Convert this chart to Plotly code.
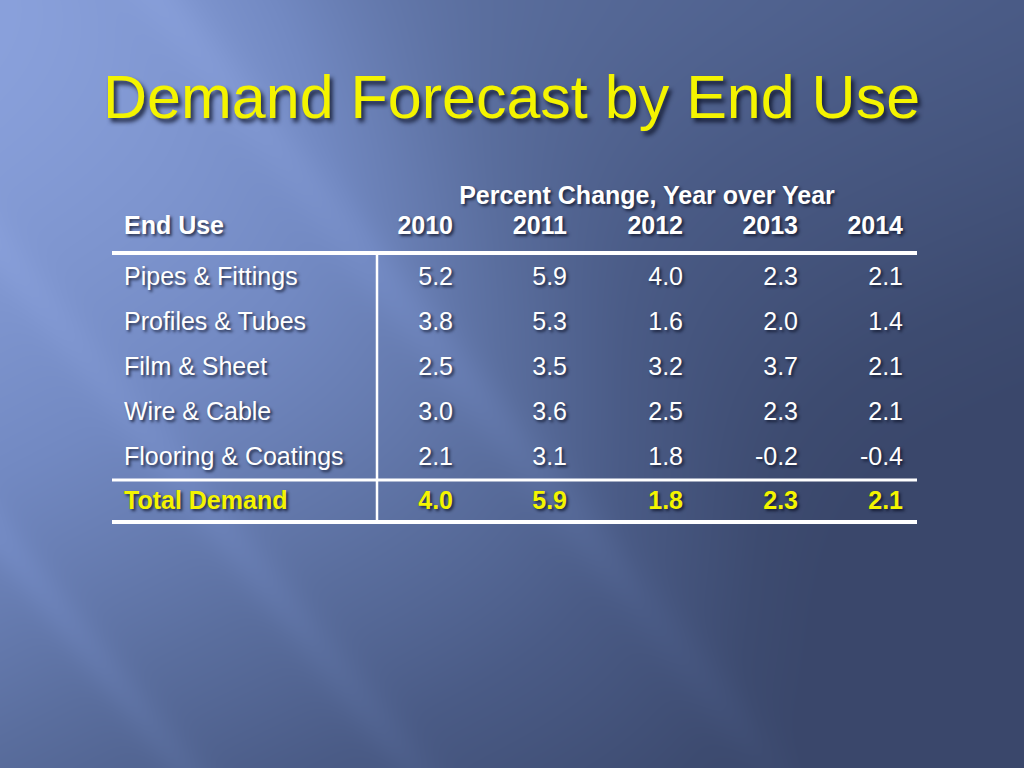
import numpy as np
import plotly.graph_objects as go

# table content
title = "Demand Forecast by End Use"
group_header = "Percent Change, Year over Year"
first_col_header = "End Use"
years = ["2010", "2011", "2012", "2013", "2014"]
end_uses = ["Pipes & Fittings", "Profiles & Tubes", "Film & Sheet",
            "Wire & Cable", "Flooring & Coatings"]
pct_2010 = [5.2, 3.8, 2.5, 3.0, 2.1]
pct_2011 = [5.9, 5.3, 3.5, 3.6, 3.1]
pct_2012 = [4.0, 1.6, 3.2, 2.5, 1.8]
pct_2013 = [2.3, 2.0, 3.7, 2.3, -0.2]
pct_2014 = [2.1, 1.4, 2.1, 2.1, -0.4]
total_label = "Total Demand"
total_values = [4.0, 5.9, 1.8, 2.3, 2.1]

W, H = 1024, 768
FONT = "Liberation Sans, Arial, sans-serif"
YELLOW = "#f4f400"
SHADOW = "2px 2px 3px rgba(10,15,35,0.75)"
FS = 25

# ---- slide background (diagonal blue gradient with faint streaks) ----
gx = np.linspace(0, W, 129)
gy = np.linspace(0, H, 97)
XX, YY = np.meshgrid(gx, gy)
C = XX - 0.8 * YY
s1 = 1 / (1 + np.exp(-(C - 280) / 90))
s2 = (YY / H) ** 1.4
d = 0.45 * s1 + 0.58 * s2 + 0.3 * XX / W + 0.25 * XX * YY / (W * H)
for c, w, a in [(-430, 25, 0.07), (-200, 28, 0.07), (160, 32, 0.08)]:
    d = d - a * np.exp(-((C - c) / w) ** 2)
bg_scale = [[0.0, "#8ba2dd"], [0.27, "#7289c2"], [0.5, "#5a6e9e"],
            [0.68, "#4a5b86"], [0.9, "#3d4b70"], [1.0, "#3a476b"]]

fig = go.Figure()
fig.add_trace(go.Heatmap(x=gx, y=gy, z=d, zmin=0, zmax=1.1, colorscale=bg_scale,
                         zsmooth="best", showscale=False, hoverinfo="skip"))

# ---- layout geometry (pixels) ----
col_right = [453, 567, 683, 798, 903]
label_x = 124
row_y0, row_step = 279, 45
row_y = [row_y0 + row_step * i for i in range(len(end_uses))]
total_y = 503
header_y = 228

def fmt(v):
    return "%.1f" % v

cols = [pct_2010, pct_2011, pct_2012, pct_2013, pct_2014]

def txt(color):
    return dict(family=FONT, size=FS, color=color, shadow=SHADOW)

# body labels
fig.add_trace(go.Scatter(x=[label_x] * len(end_uses), y=row_y, text=end_uses,
                         mode="text", textposition="middle right",
                         textfont=txt("white"), hoverinfo="skip"))
# body values
for xr, vals in zip(col_right, cols):
    fig.add_trace(go.Scatter(x=[xr] * len(vals), y=row_y, text=[fmt(v) for v in vals],
                             mode="text", textposition="middle left",
                             textfont=txt("white"), hoverinfo="skip"))
# total row
fig.add_trace(go.Scatter(x=[label_x], y=[total_y], text=["<b>%s</b>" % total_label],
                         mode="text", textposition="middle right",
                         textfont=txt(YELLOW), hoverinfo="skip"))
fig.add_trace(go.Scatter(x=col_right, y=[total_y] * len(total_values),
                         text=["<b>%s</b>" % fmt(v) for v in total_values],
                         mode="text", textposition="middle left",
                         textfont=txt(YELLOW), hoverinfo="skip"))
# headers
fig.add_trace(go.Scatter(x=[label_x], y=[header_y], text=["<b>%s</b>" % first_col_header],
                         mode="text", textposition="middle right",
                         textfont=txt("white"), hoverinfo="skip"))
fig.add_trace(go.Scatter(x=col_right, y=[header_y] * len(years),
                         text=["<b>%s</b>" % y for y in years],
                         mode="text", textposition="middle left",
                         textfont=txt("white"), hoverinfo="skip"))
fig.add_trace(go.Scatter(x=[647], y=[198], text=["<b>%s</b>" % group_header],
                         mode="text", textposition="middle center",
                         textfont=txt("white"), hoverinfo="skip"))

# rules
fig.add_shape(type="line", x0=112, x1=917, y0=253, y1=253, line=dict(color="white", width=4))
fig.add_shape(type="line", x0=112, x1=917, y0=480, y1=480, line=dict(color="white", width=3))
fig.add_shape(type="line", x0=112, x1=917, y0=522, y1=522, line=dict(color="white", width=4))
fig.add_shape(type="line", x0=377, x1=377, y0=253, y1=522, line=dict(color="white", width=2.5))

# title
fig.add_annotation(x=511, y=97, xref="x", yref="y", text=title, showarrow=False,
                   font=dict(family=FONT, size=61, color=YELLOW,
                             shadow="3px 4px 4px rgba(10,15,35,0.8)"))

fig.update_xaxes(range=[0, W], visible=False, fixedrange=True)
fig.update_yaxes(range=[H, 0], visible=False, fixedrange=True)
fig.update_layout(width=W, height=H, margin=dict(l=0, r=0, t=0, b=0),
                  showlegend=False, paper_bgcolor="#4f6290", plot_bgcolor="#4f6290")

fig.write_html("out.html", config={"displayModeBar": False},
               post_script="document.body.style.margin='0';document.body.style.overflow='hidden';")
